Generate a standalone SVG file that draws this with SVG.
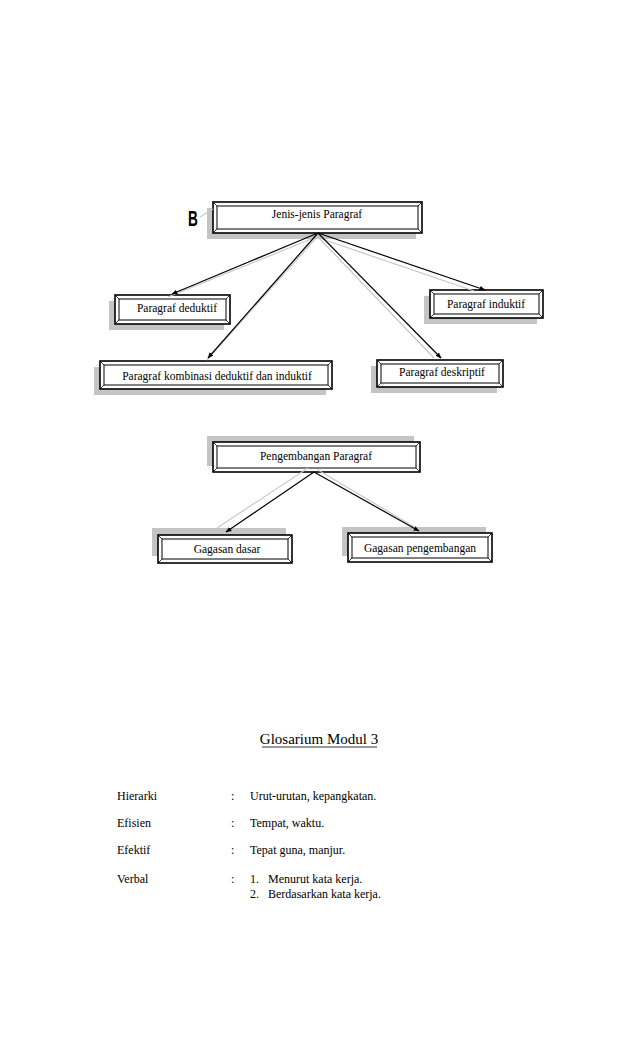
<svg xmlns="http://www.w3.org/2000/svg" width="638" height="1051" viewBox="0 0 638 1051">
<style>
.sh{fill:#c4c4c4;stroke:none}
.ob{fill:#fff;stroke:#000;stroke-width:1.6}
.ib{fill:#fff;stroke:#000;stroke-width:1}
.cn{stroke:#000;stroke-width:0.8}
.t{font-family:"Liberation Serif","Times New Roman",serif;font-size:11.5px;fill:#000;text-anchor:middle}
.g{font-family:"Liberation Serif","Times New Roman",serif;font-size:12px;fill:#000}
.bl{stroke:#000;stroke-width:1.2;fill:none}
.gr{stroke:#c8c8c8;stroke-width:1.2;fill:none}
.bb{font-family:"Liberation Sans","DejaVu Sans",sans-serif;font-size:22px;font-weight:bold;text-anchor:middle;fill:#000}
.ti{font-family:"Liberation Serif","Times New Roman",serif;font-size:15px;text-anchor:middle;fill:#000}
</style>
<defs>
<marker id="ah" viewBox="0 0 10 10" refX="9" refY="5" markerWidth="6" markerHeight="6" orient="auto" markerUnits="userSpaceOnUse">
<path d="M0,1 L10,5 L0,9 z" fill="#000"/>
</marker>
</defs>
<rect width="638" height="1051" fill="#fff"/>

<g id="label-B">
<text class="bb" transform="translate(193,226) scale(0.62,1)">B</text>
</g>

<g id="node-jenis">
<rect class="sh" x="207" y="208" width="209" height="31"/>
<rect class="ob" x="213" y="202" width="209" height="31"/>
<rect class="ib" x="217" y="206" width="201" height="23"/>
<path class="cn" d="M213,202L217,206M422,202L418,206M213,233L217,229M422,233L418,229"/>
<text class="t" x="317" y="218">Jenis-jenis  Paragraf</text>
</g>

<g id="node-deduktif">
<rect class="sh" x="109" y="301" width="115" height="29"/>
<rect class="ob" x="115" y="295" width="115" height="29"/>
<rect class="ib" x="119" y="299" width="107" height="21"/>
<path class="cn" d="M115,295L119,299M230,295L226,299M115,324L119,320M230,324L226,320"/>
<text class="t" x="177" y="312">Paragraf deduktif</text>
</g>

<g id="node-induktif">
<rect class="sh" x="424" y="296" width="113" height="28"/>
<rect class="ob" x="430" y="290" width="113" height="28"/>
<rect class="ib" x="434" y="294" width="105" height="20"/>
<path class="cn" d="M430,290L434,294M543,290L539,294M430,318L434,314M543,318L539,314"/>
<text class="t" x="486" y="308">Paragraf induktif</text>
</g>

<g id="node-kombinasi">
<rect class="sh" x="94" y="367" width="232" height="28"/>
<rect class="ob" x="100" y="361" width="232" height="28"/>
<rect class="ib" x="104" y="365" width="224" height="20"/>
<path class="cn" d="M100,361L104,365M332,361L328,365M100,389L104,385M332,389L328,385"/>
<text class="t" x="217" y="380">Paragraf kombinasi deduktif dan induktif</text>
</g>

<g id="node-deskriptif">
<rect class="sh" x="371" y="366" width="126" height="27"/>
<rect class="ob" x="377" y="360" width="126" height="27"/>
<rect class="ib" x="381" y="364" width="118" height="19"/>
<path class="cn" d="M377,360L381,364M503,360L499,364M377,387L381,383M503,387L499,383"/>
<text class="t" x="442" y="376">Paragraf deskriptif</text>
</g>

<g id="node-pengembangan">
<rect class="sh" x="207" y="436" width="207" height="30"/>
<rect class="ob" x="213" y="442" width="207" height="30"/>
<rect class="ib" x="217" y="446" width="199" height="22"/>
<path class="cn" d="M213,442L217,446M420,442L416,446M213,472L217,468M420,472L416,468"/>
<text class="t" x="316" y="460">Pengembangan Paragraf</text>
</g>

<g id="node-gagasan-dasar">
<rect class="sh" x="152" y="528" width="134" height="28"/>
<rect class="ob" x="158" y="535" width="134" height="28"/>
<rect class="ib" x="162" y="539" width="126" height="20"/>
<path class="cn" d="M158,535L162,539M292,535L288,539M158,563L162,559M292,563L288,559"/>
<text class="t" x="227" y="553">Gagasan dasar</text>
</g>

<g id="node-gagasan-pengembangan">
<rect class="sh" x="342" y="527" width="144" height="29"/>
<rect class="ob" x="348" y="533" width="144" height="29"/>
<rect class="ib" x="352" y="537" width="136" height="21"/>
<path class="cn" d="M348,533L352,537M492,533L488,537M348,562L352,558M492,562L488,558"/>
<text class="t" x="420" y="552">Gagasan pengembangan</text>
</g>

<g id="connectors">
<line class="gr" x1="200" y1="217" x2="213" y2="209"/>
<line class="gr" x1="316" y1="237" x2="168" y2="297"/>
<line class="gr" x1="317" y1="237" x2="207" y2="360"/>
<line class="gr" x1="318" y1="237" x2="434" y2="358"/>
<line class="gr" x1="322" y1="239" x2="474" y2="291"/>
<line class="bl" x1="318" y1="233" x2="172" y2="294" marker-end="url(#ah)"/>
<line class="bl" x1="318" y1="233" x2="208" y2="358" marker-end="url(#ah)"/>
<line class="bl" x1="318" y1="233" x2="441" y2="358" marker-end="url(#ah)"/>
<line class="bl" x1="318" y1="233" x2="485" y2="290" marker-end="url(#ah)"/>
<line class="gr" x1="308" y1="468" x2="217" y2="528"/>
<line class="gr" x1="318" y1="470" x2="416" y2="528"/>
<line class="bl" x1="314" y1="472" x2="226" y2="532" marker-end="url(#ah)"/>
<line class="bl" x1="314" y1="472" x2="419" y2="531" marker-end="url(#ah)"/>
</g>

<g id="glossary">
<text class="ti" x="319" y="744">Glosarium Modul 3</text>
<line x1="262" y1="747" x2="377" y2="747" stroke="#000" stroke-width="0.8"/>
<text class="g" x="117" y="800">Hierarki</text>
<text class="g" x="231" y="800">:</text>
<text class="g" x="250" y="800">Urut-urutan,  kepangkatan.</text>
<text class="g" x="117" y="827">Efisien</text>
<text class="g" x="231" y="827">:</text>
<text class="g" x="250" y="827">Tempat,  waktu.</text>
<text class="g" x="117" y="854">Efektif</text>
<text class="g" x="231" y="854">:</text>
<text class="g" x="250" y="854">Tepat guna,  manjur.</text>
<text class="g" x="117" y="883">Verbal</text>
<text class="g" x="231" y="883">:</text>
<text class="g" x="250" y="883">1.</text>
<text class="g" x="268" y="883">Menurut  kata kerja.</text>
<text class="g" x="250" y="898">2.</text>
<text class="g" x="268" y="898">Berdasarkan kata kerja.</text>
</g>
</svg>
